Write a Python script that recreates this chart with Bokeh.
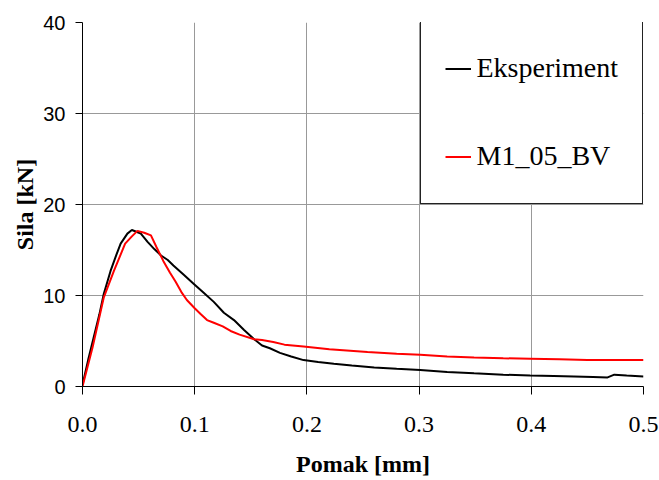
from bokeh.plotting import figure
from bokeh.models import FixedTicker, CustomJSTickFormatter, Legend, LegendItem, Range1d
from bokeh.embed import file_html
from bokeh.resources import INLINE

# Data
exp_x = [0, 0.005, 0.01, 0.015, 0.019, 0.025, 0.030, 0.034, 0.040, 0.044, 0.048, 0.052,
         0.058, 0.064, 0.070, 0.076, 0.081, 0.090, 0.099, 0.108, 0.117, 0.126, 0.135,
         0.144, 0.153, 0.160, 0.167, 0.176, 0.186, 0.197, 0.210, 0.224, 0.240, 0.260,
         0.280, 0.301, 0.325, 0.349, 0.375, 0.399, 0.420, 0.438, 0.455, 0.468, 0.474,
         0.485, 0.5]
exp_y = [0.2, 2.9, 5.4, 7.9, 10.2, 12.7, 14.4, 15.7, 16.8, 17.2, 17.0, 16.8,
         15.9, 15.1, 14.4, 13.9, 13.3, 12.3, 11.3, 10.3, 9.3, 8.1, 7.3,
         6.2, 5.2, 4.5, 4.2, 3.7, 3.3, 2.9, 2.7, 2.5, 2.3, 2.1,
         1.95, 1.8, 1.6, 1.45, 1.3, 1.2, 1.15, 1.1, 1.05, 1.0, 1.3,
         1.2, 1.1]
mod_x = [0, 0.009, 0.019, 0.028, 0.038, 0.044, 0.049, 0.055, 0.061, 0.066, 0.072, 0.078,
         0.083, 0.088, 0.093, 0.100, 0.105, 0.111, 0.117, 0.125, 0.132, 0.140, 0.153,
         0.160, 0.170, 0.180, 0.197, 0.220, 0.254, 0.280, 0.301, 0.325, 0.349, 0.375,
         0.399, 0.425, 0.450, 0.475, 0.5]
mod_y = [0, 4.3, 9.8, 12.7, 15.7, 16.5, 17.1, 16.9, 16.6, 15.3, 13.8, 12.5,
         11.5, 10.4, 9.5, 8.6, 8.0, 7.3, 7.0, 6.6, 6.1, 5.7, 5.2,
         5.1, 4.9, 4.6, 4.4, 4.1, 3.8, 3.6, 3.5, 3.3, 3.2, 3.1,
         3.05, 3.0, 2.9, 2.9, 2.9]
x_ticks = [0, 0.1, 0.2, 0.3, 0.4, 0.5]
y_ticks = [0, 10, 20, 30, 40]
series_names = ["Eksperiment", "M1_05_BV"]

p = figure(width=659, height=480, output_backend="svg", toolbar_location=None,
           x_range=Range1d(0, 0.5), y_range=Range1d(0, 40),
           min_border_left=82, min_border_right=16, min_border_top=22, min_border_bottom=94)
p.outline_line_color = None
p.background_fill_color = "white"
p.border_fill_color = "white"

r1 = p.line(exp_x, exp_y, line_color="black", line_width=2)
r2 = p.line(mod_x, mod_y, line_color="red", line_width=2)

p.xaxis.ticker = FixedTicker(ticks=x_ticks)
p.yaxis.ticker = FixedTicker(ticks=y_ticks)
p.xaxis.formatter = CustomJSTickFormatter(code="return tick.toFixed(1);")
p.xaxis.minor_tick_line_color = None
p.yaxis.minor_tick_line_color = None
for ax in (p.xaxis, p.yaxis):
    ax.axis_line_color = "black"
    ax.major_tick_line_color = "black"
    ax.major_tick_in = 0
    ax.axis_label_text_font = "Liberation Serif"
    ax.axis_label_text_font_style = "bold"
    ax.axis_label_text_font_size = "24px"
    ax.axis_label_text_color = "black"
    ax.major_label_text_color = "black"
p.xaxis.major_tick_out = 8
p.yaxis.major_tick_out = 7
p.xaxis.major_label_text_font = "Liberation Serif"
p.xaxis.major_label_text_font_size = "24px"
p.xaxis.major_label_standoff = 22
p.yaxis.major_label_text_font = "Liberation Sans"
p.yaxis.major_label_text_font_size = "20px"
p.yaxis.major_label_standoff = 10
p.xaxis.axis_label = "Pomak [mm]"
p.yaxis.axis_label = "Sila [kN]"
p.xaxis.axis_label_standoff = 16
p.yaxis.axis_label_standoff = 2

p.grid.grid_line_color = "#999999"
p.grid.grid_line_width = 1

legend = Legend(items=[LegendItem(label=series_names[0], renderers=[r1]),
                       LegendItem(label=series_names[1], renderers=[r2])],
                location=(337.5, 182.5))
legend.margin = 0
legend.padding = 24
legend.spacing = 43
legend.label_height = 45
legend.glyph_height = 45
legend.glyph_width = 26
legend.label_standoff = 6
legend.label_text_font = "Liberation Serif"
legend.label_text_font_size = "28px"
legend.label_text_color = "black"
legend.border_line_color = "#222222"
legend.border_line_alpha = 1.0
legend.border_line_width = 1
legend.background_fill_color = "white"
legend.background_fill_alpha = 1
p.add_layout(legend, "center")

open("out.html", "w").write(file_html(p, INLINE))
